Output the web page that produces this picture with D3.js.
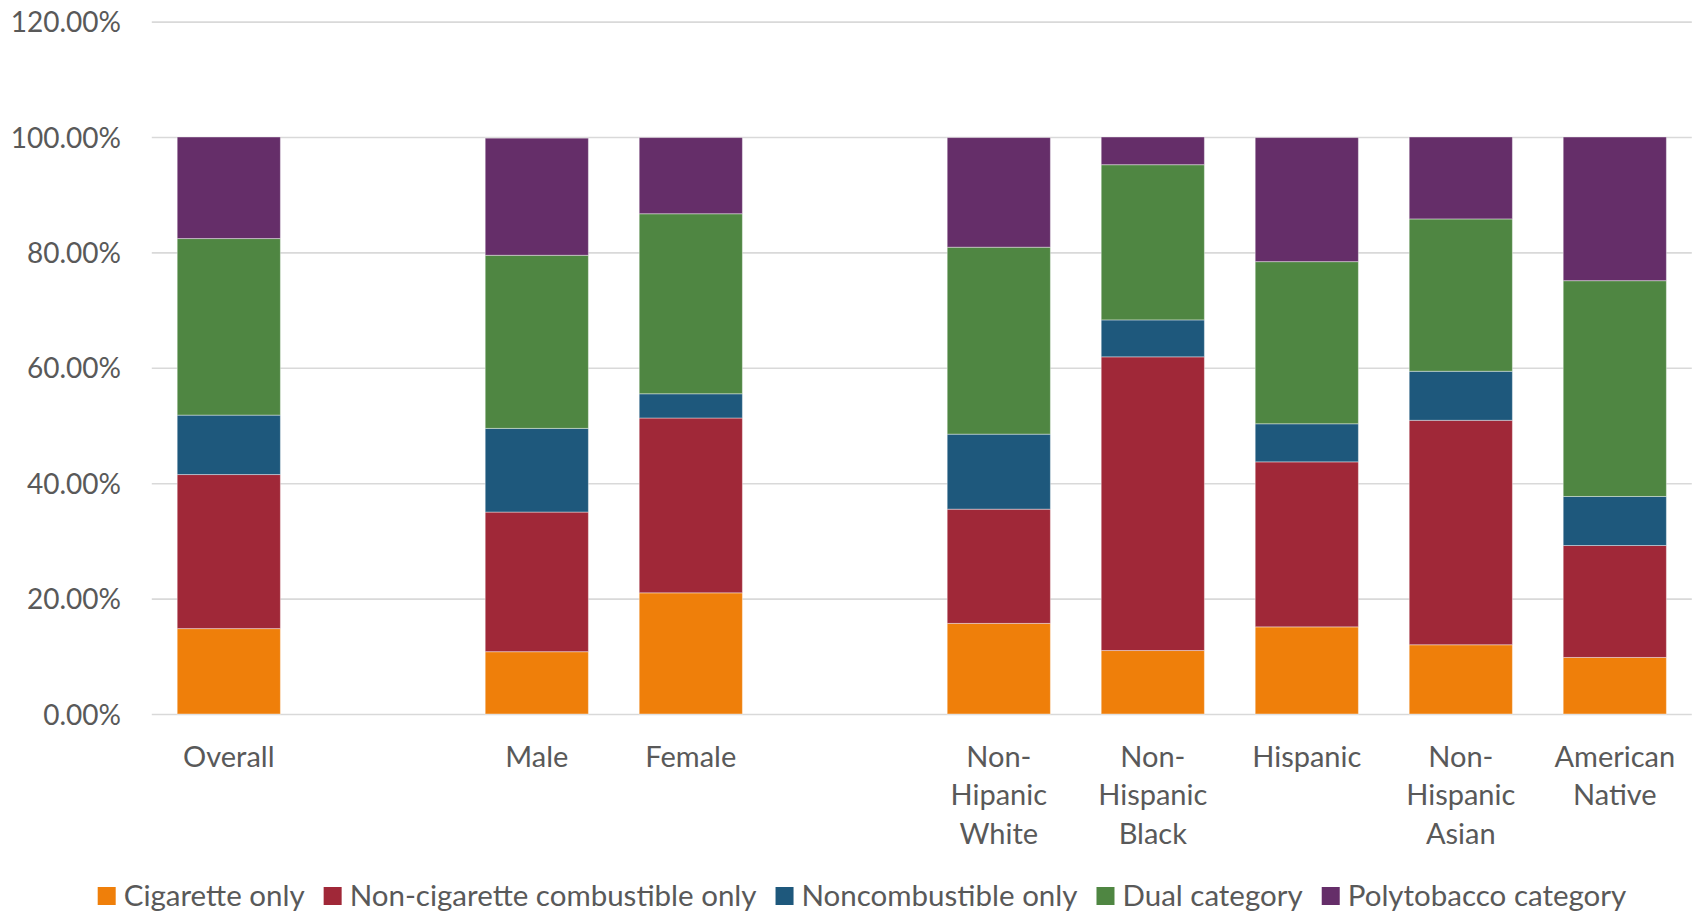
<!DOCTYPE html>
<html>
<head>
<meta charset="utf-8">
<script src="https://cdn.jsdelivr.net/npm/d3@7/dist/d3.min.js"></script>
<style>
  html, body { margin: 0; padding: 0; background: #ffffff; }
  svg { display: block; }
  text { font-family: Lato, "Open Sans", sans-serif; fill: #595959; }
</style>
</head>
<body>
<svg id="chart" width="1696" height="913"></svg>
<script>
// ---- Data ----
const categories = ["Overall", "", "Male", "Female", " ", "Non-Hipanic White", "Non-Hispanic Black", "Hispanic", "Non-Hispanic Asian", "American Native"];
const seriesNames = ["Cigarette only", "Non-cigarette combustible only", "Noncombustible only", "Dual category", "Polytobacco category"];
const cigaretteOnly        = [14.8, null, 10.8, 21.0, null, 15.7, 11.0, 15.1, 12.0,  9.8];
const nonCigCombustible    = [26.7, null, 24.2, 30.3, null, 19.8, 50.9, 28.6, 38.9, 19.4];
const noncombustibleOnly   = [10.3, null, 14.5,  4.2, null, 13.0,  6.4,  6.6,  8.5,  8.5];
const dualCategory         = [30.6, null, 30.0, 31.2, null, 32.4, 26.9, 28.1, 26.4, 37.4];
const polytobaccoCategory  = [17.6, null, 20.3, 13.2, null, 19.0,  4.8, 21.5, 14.2, 24.9];
const yTicks = [0, 20, 40, 60, 80, 100, 120];
const colors = ["#EF7F0A", "#A02838", "#1E587C", "#4F8642", "#652E69"];

const seriesValues = [cigaretteOnly, nonCigCombustible, noncombustibleOnly, dualCategory, polytobaccoCategory];

// ---- Layout ----
const W = 1696, H = 913;
const margin = { top: 21.6, right: 4.2, bottom: 199, left: 151.8 };
const innerW = W - margin.left - margin.right;
const innerH = H - margin.top - margin.bottom;

const svg = d3.select("#chart");
const g = svg.append("g").attr("transform", `translate(${margin.left},${margin.top})`);

const x = d3.scaleBand().domain(categories).range([0, innerW]).paddingInner(0.33).paddingOuter(0.165);
const y = d3.scaleLinear().domain([0, 120]).range([innerH, 0]);

// rows for stacking
const rows = categories.map((c, i) => {
  const r = { category: c, blank: cigaretteOnly[i] === null };
  seriesNames.forEach((s, k) => { r[s] = seriesValues[k][i] || 0; });
  return r;
});

// gridlines + y labels
const yAxis = d3.axisLeft(y).tickValues(yTicks).tickSize(-innerW).tickPadding(0)
  .tickFormat(d => d.toFixed(2) + "%");
const yg = g.append("g").call(yAxis);
yg.select(".domain").remove();
yg.selectAll(".tick line").attr("stroke", "#d9d9d9").attr("stroke-width", 1.6);
yg.selectAll(".tick text")
  .attr("x", 121 - margin.left)
  .attr("dy", "0.36em")
  .attr("text-anchor", "end")
  .style("font-size", "28px")
  .style("fill", "#595959");

// bars
const stack = d3.stack().keys(seriesNames);
const stacked = stack(rows);
stacked.forEach((layer, k) => {
  g.append("g").attr("fill", colors[k])
    .selectAll("rect")
    .data(layer.filter(d => !d.data.blank))
    .join("rect")
    .attr("x", d => x(d.data.category))
    .attr("width", x.bandwidth())
    .attr("y", d => y(d[1]))
    .attr("height", d => y(d[0]) - y(d[1]))
    .attr("stroke", "rgba(255,255,255,0.4)")
    .attr("stroke-width", 1);
});

// x axis labels (wrapped)
const xAxis = d3.axisBottom(x).tickSize(0).tickFormat("");
const xg = g.append("g").attr("transform", `translate(0,${innerH})`).call(xAxis);
xg.select(".domain").remove();
function wrapLines(label) {
  return label.trim() === "" ? [] : label.replace(/-/g, "- ").split(/\s+/).filter(s => s.length);
}
xg.selectAll(".tick").each(function(d) {
  const lines = wrapLines(d);
  const t = d3.select(this).append("text")
    .attr("text-anchor", "middle")
    .attr("y", 766.7 - margin.top - innerH)
    .style("font-size", "29px")
    .style("fill", "#595959");
  lines.forEach((ln, i) => {
    t.append("tspan").attr("x", 0).attr("dy", i === 0 ? 0 : 38.6).text(ln);
  });
});

// legend
const legend = svg.append("g");
const legendY = 896;
const sq = 18, gapText = 8, gapItem = 19;
let cx = 0;
seriesNames.forEach((name, k) => {
  const item = legend.append("g");
  item.append("rect").attr("x", 0).attr("y", -sq / 2).attr("width", sq).attr("height", sq).attr("fill", colors[k]);
  const t = item.append("text").attr("x", sq + gapText).attr("y", 0).attr("dy", "0.35em")
    .style("font-size", "29.5px").style("fill", "#595959").text(name);
  const w = sq + gapText + t.node().getComputedTextLength();
  item.attr("transform", `translate(${cx},${legendY})`);
  cx += w + gapItem;
});
const totalW = cx - gapItem;
legend.attr("transform", `translate(${862 - totalW / 2},0)`);
</script>
</body>
</html>
